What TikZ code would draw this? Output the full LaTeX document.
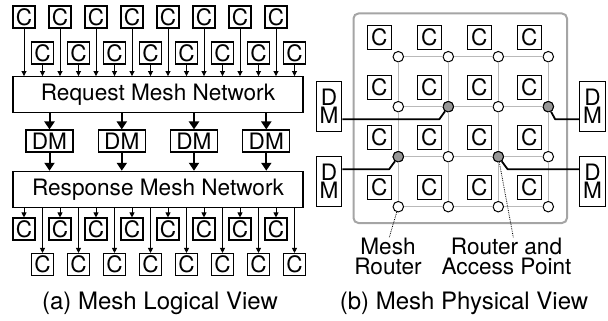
\documentclass[tikz,border=0pt]{standalone}
\usepackage{fontspec}
\setmainfont{TeX Gyre Heros}
\usetikzlibrary{arrows.meta}
\definecolor{framegray}{RGB}{165,165,165}
\definecolor{gridgray}{RGB}{185,185,185}
\definecolor{apgray}{RGB}{150,150,150}

\begin{document}
\begin{tikzpicture}[x=1pt,y=-1pt,
  every node/.style={font=\fontsize{22.6}{18}\selectfont, inner sep=0pt},
  caption/.style={anchor=base, font=\fontsize{24}{26}\selectfont},
  cbox/.style={draw, line width=1.1pt, minimum width=22pt, minimum height=22pt},
  cboxr/.style={draw, line width=1.1pt, minimum width=24pt, minimum height=24pt},
  netbox/.style={draw, line width=1.1pt, minimum width=290pt, minimum height=36pt},
  dmbox/.style={draw, line width=1.1pt, minimum width=47pt, minimum height=22pt},
  dmvert/.style={draw, line width=1.1pt, minimum width=25.5pt, minimum height=50pt, align=center},
  thinarrow/.style={line width=0.9pt, -{Triangle[length=5pt,width=5pt]}},
  thickarrow/.style={line width=2pt, -{Triangle[length=8pt,width=10pt]}},
  router/.style={circle, draw, line width=1pt, fill=white, minimum size=10.5pt},
  accesspt/.style={router, fill=apgray},
  gridline/.style={gridgray, line width=1.2pt},
  wire/.style={line width=1.8pt, line join=round},
  pointer/.style={densely dotted, line width=0.8pt},
]
\useasboundingbox (0,0) rectangle (608,321);

% ---------- (a) logical view ----------
\node[netbox] (req)  at (158,94.6)  {Request Mesh Network};
\node[netbox] (resp) at (158,189.3) {Response Mesh Network};

\foreach \i in {0,...,7} {
  \node[cbox] (ta\i) at (24+36*\i,17)    {C};
  \node[cbox] (tb\i) at (42.5+36*\i,53)  {C};
  \node[cbox] (ba\i) at (24+36*\i,229)   {C};
  \node[cbox] (bb\i) at (42.5+36*\i,264.5) {C};
  \draw[thinarrow] (ta\i) -- (ta\i |- req.north);
  \draw[thinarrow] (tb\i) -- (tb\i |- req.north);
  \draw[thinarrow] (ba\i |- resp.south) -- (ba\i);
  \draw[thinarrow] (bb\i |- resp.south) -- (bb\i);
}

\foreach \j/\x in {0/49.5,1/121.8,2/194,3/266.3} {
  \node[dmbox] (dm\j) at (\x,141) {DM};
  \draw[thickarrow] (dm\j |- req.south) -- (dm\j);
  \draw[thickarrow] (dm\j) -- (dm\j |- resp.north);
}

\node[caption] (capa) at (160,309) {(a) Mesh Logical View};

% ---------- (b) physical view ----------
\node[draw=framegray, line width=2pt, rounded corners=5pt,
      minimum width=213.5pt, minimum height=209.5pt] (chip) at (460.25,118.25) {};

% core tiles, one up-left of each router
\foreach \i in {0,...,3} {
  \foreach \j in {0,...,3} {
    \node[cboxr] (k\i\j) at (379.2+50*\j,37.2+50*\i) {C};
  }
}

% interface modules
\node[dmvert] (dmL1) at (329,106.7) {D\\M};
\node[dmvert] (dmL2) at (329,181.7) {D\\M};
\node[dmvert] (dmR1) at (592.5,106.7) {D\\M};
\node[dmvert] (dmR2) at (592.5,181.7) {D\\M};

% 4x4 router grid
\foreach \i in {0,...,3} {
  \foreach \j in {0,...,3} {
    \node[router] (r\i\j) at (398.3+50*\j,56.7+50*\i) {};
  }
}
\node[accesspt] at (r11) {};
\node[accesspt] at (r13) {};
\node[accesspt] at (r20) {};
\node[accesspt] at (r22) {};

% mesh links
\foreach \i in {0,...,3} {
  \draw[gridline] (r\i0) -- (r\i1);
  \draw[gridline] (r\i1) -- (r\i2);
  \draw[gridline] (r\i2) -- (r\i3);
  \draw[gridline] (r0\i) -- (r1\i);
  \draw[gridline] (r1\i) -- (r2\i);
  \draw[gridline] (r2\i) -- (r3\i);
}

% links from the interface modules to the access points
\draw[wire] ([yshift=-12.6pt]dmL1.east) -- ++(97,0) -- (r11);
\draw[wire] ([yshift=-12.6pt]dmR1.west) -- ++(-24,0) -- (r13);
\draw[wire] ([yshift=12.4pt]dmL2.east) -- ++(46.8,0) -- (r20);
\draw[wire] ([yshift=12.4pt]dmR2.west) -- ++(-71.5,0) -- (r22);

% labels
\node[anchor=base] (lm1) at (388,254) {Mesh};
\node[anchor=base] (lm2) at (388,274) {Router};
\node[anchor=base] (la1) at (506.5,254) {Router and};
\node[anchor=base] (la2) at (506.5,274) {Access Point};
\draw[pointer] (r30) -- ([xshift=1.3pt]lm1.north);
\draw[pointer] (r22) -- ([xshift=6.8pt]la1.north);

\node[caption] (capb) at (464,309) {(b) Mesh Physical View};
\end{tikzpicture}
\end{document}
